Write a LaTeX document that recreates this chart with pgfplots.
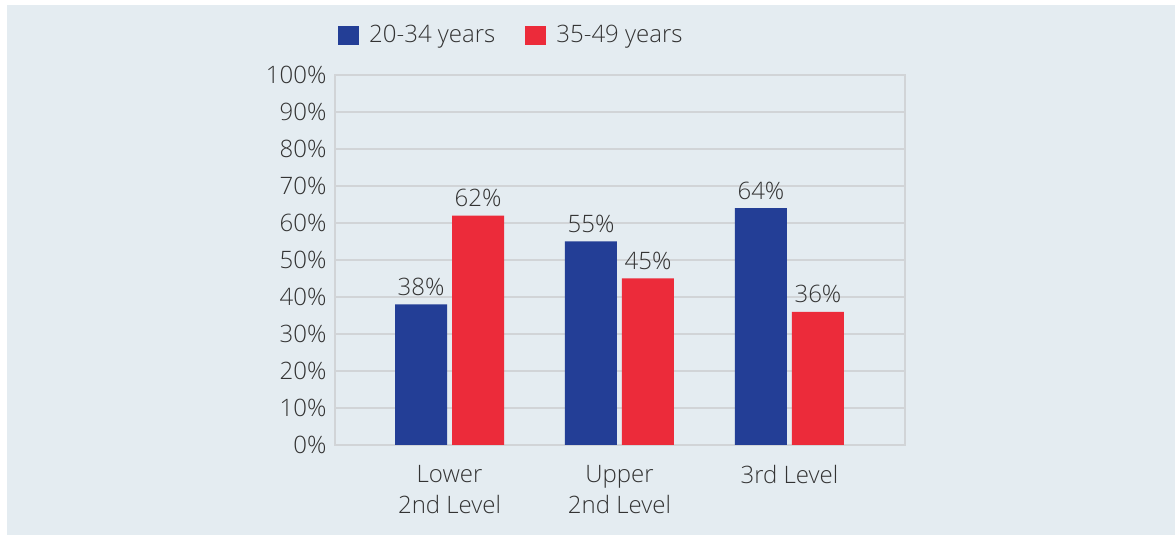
\documentclass[border=0pt]{standalone}
\usepackage{fontspec}
\setmainfont{Open Sans}[UprightFont = * Light, BoldFont = *]
\usepackage{pgfplots}
\pgfplotsset{compat=1.18}
\definecolor{panel}{HTML}{E4ECF1}
\definecolor{gridc}{HTML}{D1D4D7}
\definecolor{barblue}{HTML}{233E96}
\definecolor{barred}{HTML}{EC2B3A}
\definecolor{txt}{HTML}{333333}
\newcommand{\chartfont}{\fontsize{24}{31}\selectfont}

\begin{document}
\begin{tikzpicture}[x=1pt,y=1pt]
\fill[white] (0,0) rectangle (1175,535);
\fill[panel] (7,0) rectangle (1175,530);
\begin{axis}[
  at={(335pt,90pt)}, anchor=south west,
  scale only axis, width=570pt, height=370pt,
  ybar=5pt, bar width=52pt,
  xmin=-0.674, xmax=2.68, ymin=0, ymax=100,
  xtick={0,1,2},
  xticklabels={Lower\\2nd Level, Upper\\2nd Level, 3rd Level},
  ytick={0,10,...,100},
  yticklabel={\pgfmathprintnumber{\tick}\%},
  /pgf/number format/assume math mode=true,
  tick label style={font=\chartfont, text=txt},
  xticklabel style={align=center, yshift=-17pt},
  yticklabel style={xshift=-5pt},
  major tick length=0pt,
  axis line style={gridc, line width=2.5pt},
  ymajorgrids, grid style={gridc, line width=2pt},
  nodes near coords={\pgfmathprintnumber{\pgfplotspointmeta}\%},
  every node near coord/.append style={font=\chartfont, text=txt, yshift=5pt},
  legend columns=2,
  legend style={at={(0,1.108)}, anchor=west, draw=none, fill=none,
    font=\chartfont, text=txt,
    /tikz/every odd column/.append style={column sep=8pt},
    /tikz/every even column/.append style={column sep=28pt}},
  legend image code/.code={\fill[#1] (0pt,-9.5pt) rectangle (21pt,9.5pt);},
]
\addplot[fill=barblue, draw=none] coordinates {(0,38) (1,55) (2,64)};
\addplot[fill=barred, draw=none] coordinates {(0,62) (1,45) (2,36)};
\legend{20-34 years, 35-49 years}
\end{axis}
\end{tikzpicture}
\end{document}
